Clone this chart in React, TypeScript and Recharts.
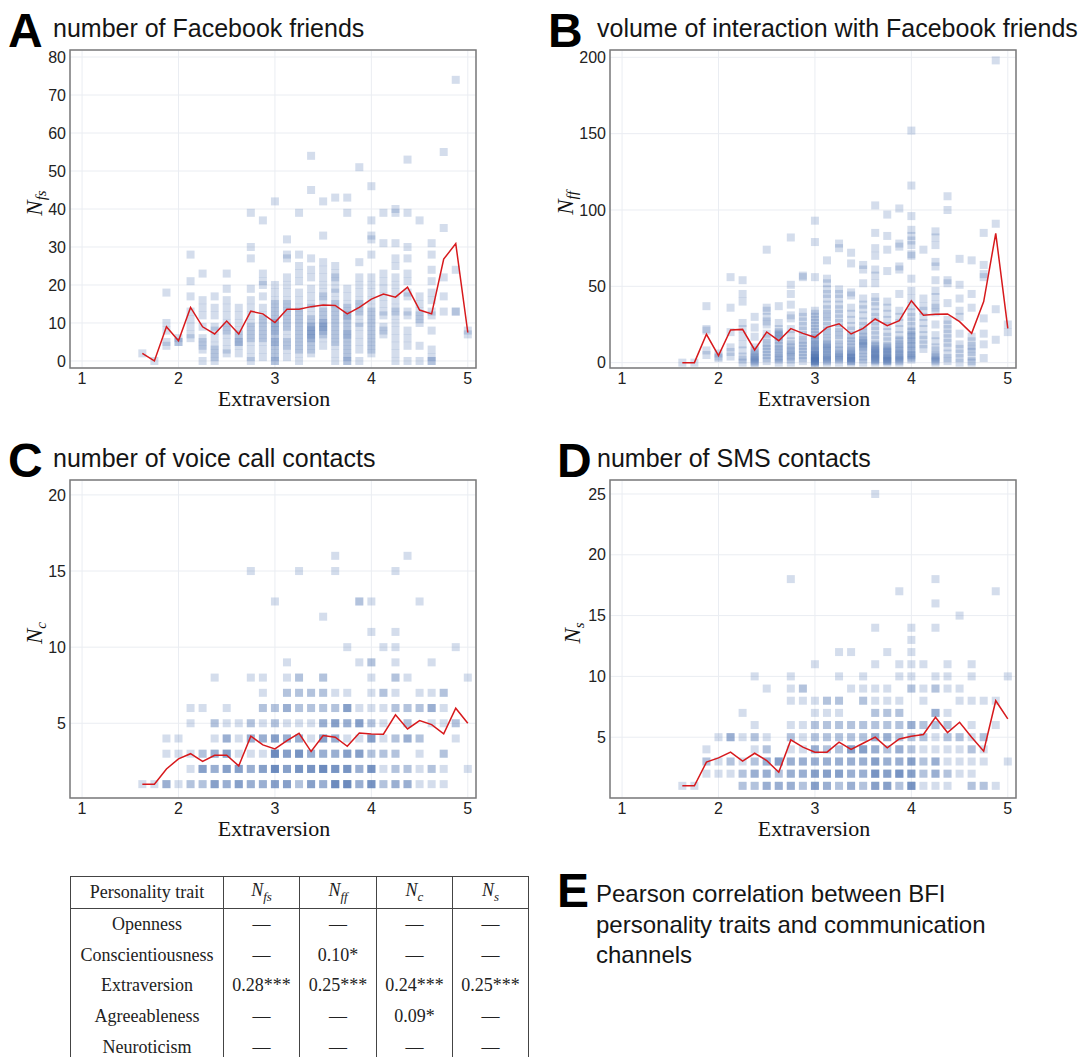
import { CartesianGrid, ReferenceArea, Scatter, ScatterChart, XAxis, YAxis } from "recharts";

// BFI extraversion scores come in steps of 1/8
const extraversionLevels = [
  1.625, 1.75, 1.875, 2, 2.125, 2.25, 2.375, 2.5, 2.625, 2.75, 2.875, 3, 3.125, 3.25,
  3.375, 3.5, 3.625, 3.75, 3.875, 4, 4.125, 4.25, 4.375, 4.5, 4.625, 4.75, 4.875, 5,
];
const xTicks = [1, 2, 3, 4, 5];

// A: number of Facebook friends, one list of users per extraversion level
const fsColumns = [
  [2], [0], [18, 10, 8, 5, 4], [6, 5, 5],
  [28, 21, 17, 13, 11, 9, 7, 6],
  [23, 16, 14, 12, 9, 6, 5, 4, 3, 0],
  [17, 14, 12, 9, 8, 6, 4, 3, 2, 1, 0],
  [23, 19, 16, 14, 12, 10, 9, 8, 7, 5, 3, 2],
  [14, 12, 10, 8, 7, 6, 5, 5, 4, 2],
  [39, 30, 27, 19, 16, 14, 12, 10, 9, 8, 7, 6, 5, 3, 1, 0],
  [37, 23, 21, 20, 17, 14, 12, 11, 10, 9, 8, 7, 6, 5, 3, 1],
  [42, 20, 18, 16, 15, 14, 13, 12, 11, 10, 10, 9, 8, 8, 7, 6, 5, 5, 4, 3, 2, 1, 0, 0],
  [32, 28, 27, 22, 20, 18, 16, 15, 14, 13, 12, 11, 10, 9, 8, 6, 5, 4, 3, 1],
  [39, 28, 25, 23, 21, 18, 16, 14, 13, 12, 11, 10, 9, 8, 7, 6, 5, 4, 3, 2, 0],
  [54, 45, 27, 24, 22, 19, 17, 15, 14, 12, 11, 10, 9, 9, 8, 8, 7, 7, 6, 6, 5, 4, 3, 2],
  [42, 33, 26, 24, 22, 20, 18, 17, 16, 14, 13, 12, 11, 10, 10, 9, 9, 8, 8, 7, 6, 4],
  [43, 25, 23, 22, 21, 19, 18, 16, 15, 14, 13, 12, 11, 10, 9, 8, 7, 6, 5, 4, 2, 0],
  [43, 39, 19, 17, 15, 14, 13, 12, 12, 11, 10, 9, 8, 7, 7, 6, 5, 4, 3, 2, 1, 0, 0],
  [51, 26, 22, 20, 18, 16, 15, 14, 13, 12, 10, 9, 7, 5, 3, 0],
  [46, 37, 33, 32, 28, 22, 20, 18, 16, 14, 13, 12, 11, 10, 9, 8, 7, 6, 5, 4, 3, 2],
  [39, 31, 23, 21, 19, 17, 15, 13, 12, 9, 8, 7],
  [40, 39, 31, 27, 25, 22, 20, 18, 16, 14, 13, 12, 10, 8, 6, 4, 2, 0],
  [53, 39, 30, 27, 23, 21, 18, 17, 13, 12, 8, 6, 4, 0],
  [37, 17, 15, 13, 12, 11, 10, 4, 0],
  [31, 28, 24, 21, 18, 16, 13, 12, 8, 3, 1, 0, 0],
  [55, 35, 22, 17, 13],
  [74, 24, 13, 13],
  [8, 7],
];
const fsMeans = [
  2.0, 0, 9.0, 5.3, 14.1, 9.0, 7.1, 10.5, 7.1, 13.1, 12.4, 10.1, 13.6, 13.6,
  14.3, 14.7, 14.6, 12.4, 14.1, 16.3, 17.6, 16.8, 19.4, 13.4, 12.4, 26.8, 30.9, 7.5,
];

// B: volume of interaction with Facebook friends
const ffColumns = [
  [0], [0], [37, 22, 21, 8, 5], [6, 4, 3],
  [56, 36, 20, 10, 7, 4],
  [54, 45, 40, 26, 22, 17, 12, 8, 4, 2, 0],
  [30, 23, 17, 10, 8, 6, 5, 4, 3, 2, 1, 0, 0],
  [74, 36, 34, 30, 27, 25, 19, 16, 13, 11, 9, 7, 5, 3, 1],
  [37, 26, 22, 20, 19, 18, 17, 15, 13, 11, 9, 8, 6, 4, 3, 2, 0],
  [82, 51, 45, 38, 31, 29, 22, 18, 14, 12, 10, 8, 7, 5, 4, 2, 0],
  [57, 56, 33, 30, 27, 24, 21, 18, 15, 13, 11, 9, 7, 5, 3, 1],
  [93, 79, 56, 34, 32, 30, 28, 26, 24, 22, 20, 18, 16, 15, 14, 12, 11, 10, 9, 8, 7, 6, 5, 5, 4, 4, 3, 3, 2, 2, 1, 1, 1, 0, 0, 0],
  [67, 55, 52, 48, 45, 42, 38, 35, 32, 30, 27, 24, 21, 19, 16, 14, 12, 11, 10, 9, 8, 6, 5, 4, 3, 2, 1, 0],
  [78, 75, 48, 45, 42, 38, 35, 32, 29, 26, 23, 20, 18, 15, 12, 10, 8, 6, 5, 4, 3, 2, 0],
  [72, 65, 46, 44, 36, 32, 28, 24, 21, 18, 16, 14, 12, 10, 8, 7, 6, 5, 4, 3, 3, 2, 1, 1, 0],
  [64, 61, 52, 42, 38, 35, 31, 27, 24, 21, 19, 17, 15, 14, 13, 12, 11, 10, 8, 6, 4, 2, 0],
  [103, 85, 75, 70, 61, 57, 52, 43, 40, 37, 33, 30, 27, 24, 21, 18, 15, 12, 11, 10, 9, 8, 7, 6, 6, 5, 4, 3, 2, 2, 1, 0],
  [97, 83, 74, 60, 40, 36, 32, 28, 24, 20, 17, 14, 11, 10, 9, 8, 7, 6, 5, 4, 3, 2, 2, 1, 1, 0],
  [101, 78, 76, 63, 61, 45, 34, 30, 26, 22, 18, 15, 14, 12, 10, 9, 8, 6, 5, 4, 3, 2, 1, 0],
  [152, 116, 96, 87, 83, 80, 77, 71, 70, 55, 47, 42, 37, 33, 30, 27, 24, 21, 20, 18, 17, 15, 14, 12, 11, 9, 8, 6, 5, 4, 3, 2],
  [74, 42, 37, 34, 30, 26, 22, 18, 15, 12, 9],
  [86, 82, 77, 66, 63, 54, 47, 43, 38, 36, 33, 25, 18, 14, 10, 8, 5, 4, 3, 2, 1, 0],
  [109, 100, 54, 52, 39, 28, 25, 22, 19, 16, 13, 10, 6, 3, 1],
  [68, 51, 42, 34, 30, 19, 12, 9, 6, 3, 0],
  [67, 45, 36, 17, 14, 11, 9, 7, 4, 1, 0],
  [85, 64, 58, 56, 29, 19, 12, 3],
  [198, 91, 35, 15],
  [25, 20],
];
const ffMeans = [
  0, 0, 18.6, 4.6, 21.4, 21.8, 8.3, 20.1, 14.4, 22.3, 19.2, 16.6, 23.1, 25.5,
  18.8, 22.5, 28.6, 24.2, 27.5, 40.6, 31.0, 31.7, 31.9, 26.9, 19.2, 40.0, 84.7, 22.5,
];

// C: number of voice call contacts
const cColumns = [
  [1], [1], [1, 1, 1, 3, 4], [1, 3, 4],
  [1, 1, 2, 3, 5, 6],
  [1, 1, 2, 2, 2, 2, 3, 3, 6],
  [1, 1, 1, 1, 2, 2, 2, 3, 3, 3, 4, 5, 5, 8],
  [1, 1, 1, 2, 2, 2, 2, 3, 3, 3, 3, 4, 4, 4, 5, 6],
  [1, 1, 1, 1, 2, 2, 2, 2, 3, 4, 5],
  [1, 1, 1, 2, 2, 2, 3, 4, 4, 4, 5, 5, 8, 15],
  [1, 1, 1, 2, 2, 2, 2, 3, 4, 4, 4, 5, 6, 6, 7, 8],
  [1, 1, 1, 1, 2, 2, 2, 2, 2, 2, 3, 3, 3, 3, 3, 3, 4, 4, 4, 4, 5, 5, 6, 6, 13],
  [1, 1, 1, 1, 2, 2, 2, 2, 3, 3, 3, 3, 4, 4, 4, 5, 6, 6, 6, 7, 7, 8, 9],
  [1, 1, 2, 2, 2, 2, 2, 3, 3, 3, 3, 3, 4, 4, 4, 5, 6, 6, 7, 7, 8, 8, 15],
  [1, 1, 1, 1, 2, 2, 2, 2, 2, 3, 3, 3, 4, 5, 6, 6, 7, 7],
  [1, 1, 1, 2, 2, 2, 2, 2, 2, 3, 3, 3, 4, 4, 4, 4, 5, 5, 5, 6, 6, 7, 7, 8, 8, 12],
  [1, 1, 1, 1, 1, 1, 2, 2, 2, 2, 2, 3, 3, 3, 4, 4, 4, 5, 5, 5, 5, 6, 6, 7, 15, 16],
  [1, 1, 1, 1, 1, 1, 2, 2, 2, 2, 2, 3, 3, 3, 3, 4, 5, 5, 5, 6, 6, 6, 6, 7, 10],
  [1, 1, 1, 2, 2, 2, 3, 3, 3, 3, 4, 5, 5, 5, 5, 6, 9, 13, 13],
  [1, 1, 1, 1, 1, 2, 2, 2, 2, 2, 3, 3, 4, 4, 4, 4, 5, 5, 6, 7, 8, 9, 9, 11, 13],
  [1, 1, 2, 3, 3, 4, 5, 6, 7, 7, 10],
  [1, 1, 1, 2, 2, 3, 3, 4, 4, 6, 6, 7, 8, 8, 9, 10, 11, 15],
  [1, 1, 1, 2, 2, 4, 4, 4, 5, 5, 6, 6, 8, 16],
  [1, 2, 3, 4, 4, 6, 6, 7, 13],
  [1, 2, 2, 5, 6, 6, 6, 7, 9],
  [1, 2, 3, 3, 5, 6, 7, 7],
  [4, 5, 5, 10],
  [2, 8],
];
const cMeans = [
  1.0, 1.0, 2.0, 2.66, 3.0, 2.5, 2.9, 2.9, 2.2, 4.15, 3.58, 3.31, 3.86, 4.34,
  3.14, 4.19, 4.08, 3.49, 4.36, 4.3, 4.28, 5.55, 4.63, 5.18, 4.91, 4.3, 5.99, 5.0,
];

// D: number of SMS contacts
const sColumns = [
  [1], [1], [2, 3, 3, 4], [2, 3, 5],
  [2, 3, 3, 5, 5, 5],
  [1, 1, 2, 2, 3, 5, 7],
  [1, 1, 2, 2, 2, 3, 3, 4, 5, 5, 6, 10],
  [1, 1, 1, 2, 2, 2, 3, 3, 3, 4, 4, 5, 9],
  [1, 1, 1, 2, 2, 3, 3, 3, 3],
  [1, 1, 1, 2, 2, 2, 3, 3, 3, 4, 5, 5, 6, 8, 9, 10, 18],
  [1, 1, 2, 2, 2, 3, 3, 3, 4, 5, 6, 8, 9, 9],
  [1, 1, 1, 1, 2, 2, 2, 2, 3, 3, 3, 4, 4, 4, 5, 5, 6, 6, 7, 8, 11],
  [1, 1, 1, 2, 2, 2, 2, 3, 3, 3, 4, 4, 5, 5, 6, 6, 7, 8, 8],
  [1, 1, 2, 2, 2, 2, 3, 3, 3, 4, 4, 5, 5, 6, 6, 7, 8, 8, 10, 12],
  [1, 1, 1, 2, 2, 2, 3, 3, 3, 4, 4, 4, 4, 5, 5, 6, 6, 9, 12],
  [1, 1, 2, 2, 2, 3, 3, 3, 4, 4, 4, 4, 5, 5, 6, 6, 8, 8, 9, 10],
  [1, 1, 1, 1, 2, 2, 2, 2, 2, 3, 3, 3, 3, 4, 4, 4, 5, 5, 5, 6, 6, 7, 7, 8, 9, 11, 14, 25],
  [1, 1, 1, 1, 2, 2, 2, 2, 3, 3, 3, 4, 4, 5, 5, 5, 6, 6, 7, 7, 8, 9, 12],
  [1, 1, 2, 2, 2, 2, 2, 3, 3, 3, 4, 4, 4, 5, 5, 6, 6, 7, 7, 8, 10, 11, 17],
  [1, 1, 1, 1, 1, 2, 2, 2, 2, 3, 3, 3, 3, 4, 4, 5, 5, 6, 6, 6, 9, 9, 10, 11, 12, 13, 14],
  [1, 2, 2, 3, 3, 4, 5, 5, 6, 6, 8, 9, 11],
  [1, 2, 2, 2, 3, 3, 3, 4, 5, 6, 6, 7, 7, 7, 9, 9, 10, 14, 16, 18],
  [1, 2, 2, 3, 4, 5, 5, 6, 6, 7, 9, 10, 11],
  [2, 3, 4, 5, 5, 8, 9, 15],
  [1, 1, 2, 3, 4, 4, 5, 6, 8, 10, 11],
  [1, 1, 3, 4, 5, 5, 8],
  [1, 6, 8, 17],
  [3, 10],
];
const sMeans = [
  1.0, 1.0, 2.95, 3.3, 3.77, 3.03, 3.68, 3.08, 2.12, 4.78, 4.18, 3.77, 3.77, 4.59,
  3.99, 4.5, 5.0, 4.12, 4.86, 5.08, 5.22, 6.64, 5.38, 6.23, 5.0, 3.85, 8.0, 6.5,
];

// E: correlation table
const traits = ["Openness", "Conscientiousness", "Extraversion", "Agreeableness", "Neuroticism"];
const channelSubs = ["fs", "ff", "c", "s"];
const correlations = [
  ["—", "—", "—", "—"],
  ["—", "0.10*", "—", "—"],
  ["0.28***", "0.25***", "0.24***", "0.25***"],
  ["—", "—", "0.09*", "—"],
  ["—", "—", "—", "—"],
];

const SANS = "'Liberation Sans', Arial, Helvetica, sans-serif";
const SERIF = "'Liberation Serif', 'DejaVu Serif', serif";
const X_DOMAIN: [number, number] = [0.875, 5.085];

const toPoints = (cols: number[][]) =>
  extraversionLevels.flatMap((x, i) => cols[i].map((y) => ({ x, y })));
const toLine = (means: number[]) => extraversionLevels.map((x, i) => ({ x, y: means[i] }));

const Square = (props: any) => {
  const { cx, cy } = props;
  if (cx == null || cy == null) return <g />;
  return <rect x={cx - 4} y={cy - 4} width={8} height={8} fill="#4c72b0" fillOpacity={0.24} />;
};
const NoDot = () => <g />;

type PanelProps = {
  left: number;
  top: number;
  letter: string;
  letterX: number;
  titleX: number;
  title: string;
  sub: string;
  labelX: number;
  columns: number[][];
  means: number[];
  yDomain: [number, number];
  yTicks: number[];
};

function Panel({ left, top, letter, letterX, titleX, title, sub, labelX, columns, means, yDomain, yTicks }: PanelProps) {
  const tick = { fontSize: 16, fill: "#222", fontFamily: SANS };
  return (
    <div style={{ position: "absolute", left, top, width: 540, height: 430 }}>
      <svg width={540} height={430} style={{ position: "absolute", left: 0, top: 0 }}>
        <text x={letterX} y={47} fontFamily={SANS} fontWeight={900} fontSize={48} fill="#000">
          {letter}
        </text>
        <text x={titleX} y={37} fontFamily={SANS} fontSize={25} fill="#151515">
          {title}
        </text>
        <text x={274} y={406} textAnchor="middle" fontFamily={SERIF} fontSize={22} fill="#111">
          Extraversion
        </text>
        <text transform={`translate(${labelX},203) rotate(-90)`} textAnchor="middle" fontFamily={SERIF} fill="#111">
          <tspan fontStyle="italic" fontSize={23}>N</tspan>
          <tspan fontStyle="italic" fontSize={15} dy={4}>{sub}</tspan>
        </text>
      </svg>
      <div style={{ position: "absolute", left: 0, top: 40 }}>
        <ScatterChart width={490} height={380} margin={{ top: 10, right: 14, left: 30, bottom: 22 }}>
          <CartesianGrid stroke="#eaedf2" />
          <XAxis
            type="number"
            dataKey="x"
            domain={X_DOMAIN}
            ticks={xTicks}
            allowDataOverflow
            axisLine={false}
            tickLine={false}
            tickSize={0}
            tickMargin={5}
            height={30}
            tick={tick}
          />
          <YAxis
            type="number"
            dataKey="y"
            domain={yDomain}
            ticks={yTicks}
            allowDataOverflow
            axisLine={false}
            tickLine={false}
            tickSize={0}
            tickMargin={4}
            width={40}
            tick={tick}
          />
          <Scatter data={toPoints(columns)} shape={Square} isAnimationActive={false} />
          <Scatter
            data={toLine(means)}
            shape={NoDot}
            line={{ stroke: "#d7191c", strokeWidth: 1.5 }}
            isAnimationActive={false}
          />
          <ReferenceArea
            x1={X_DOMAIN[0]}
            x2={X_DOMAIN[1]}
            y1={yDomain[0]}
            y2={yDomain[1]}
            ifOverflow="visible"
            fill="none"
            stroke="#7a7a7a"
            strokeWidth={1.5}
          />
        </ScatterChart>
      </div>
    </div>
  );
}

const cellStyle = {
  borderLeft: "1px solid #444",
  borderRight: "1px solid #444",
  textAlign: "center" as const,
  padding: 0,
  height: 30.7,
};

function CorrelationTable() {
  return (
    <table
      style={{
        position: "absolute",
        left: 70,
        top: 876,
        borderCollapse: "collapse",
        tableLayout: "fixed",
        width: 458,
        fontFamily: SERIF,
        fontSize: 18,
        color: "#222",
        borderTop: "1px solid #444",
      }}
    >
      <colgroup>
        <col style={{ width: 153 }} />
        <col style={{ width: 76 }} />
        <col style={{ width: 77 }} />
        <col style={{ width: 76 }} />
        <col style={{ width: 76 }} />
      </colgroup>
      <thead>
        <tr>
          <th style={{ ...cellStyle, fontWeight: 400, height: 31, borderBottom: "1px solid #444" }}>
            Personality trait
          </th>
          {channelSubs.map((s) => (
            <th key={s} style={{ ...cellStyle, fontWeight: 400, height: 31, borderBottom: "1px solid #444" }}>
              <i>N</i>
              <sub style={{ fontSize: 13 }}>
                <i>{s}</i>
              </sub>
            </th>
          ))}
        </tr>
      </thead>
      <tbody>
        {traits.map((t, r) => (
          <tr key={t}>
            <td style={cellStyle}>{t}</td>
            {correlations[r].map((v, c) => (
              <td key={c} style={cellStyle}>
                {v}
              </td>
            ))}
          </tr>
        ))}
      </tbody>
    </table>
  );
}

export default function App() {
  return (
    <div
      style={{
        position: "fixed",
        left: 0,
        top: 0,
        width: 1089,
        height: 1057,
        overflow: "hidden",
        background: "#fff",
      }}
    >
      <Panel
        left={0}
        top={0}
        letter="A"
        letterX={8}
        titleX={53}
        title="number of Facebook friends"
        sub="fs"
        labelX={42}
        columns={fsColumns}
        means={fsMeans}
        yDomain={[-1.85, 81.85]}
        yTicks={[0, 10, 20, 30, 40, 50, 60, 70, 80]}
      />
      <Panel
        left={540}
        top={0}
        letter="B"
        letterX={8}
        titleX={57}
        title="volume of interaction with Facebook friends"
        sub="ff"
        labelX={33}
        columns={ffColumns}
        means={ffMeans}
        yDomain={[-3.5, 204.8]}
        yTicks={[0, 50, 100, 150, 200]}
      />
      <Panel
        left={0}
        top={430}
        letter="C"
        letterX={8}
        titleX={53}
        title="number of voice call contacts"
        sub="c"
        labelX={42}
        columns={cColumns}
        means={cMeans}
        yDomain={[0.09, 20.98]}
        yTicks={[5, 10, 15, 20]}
      />
      <Panel
        left={540}
        top={430}
        letter="D"
        letterX={17}
        titleX={57}
        title="number of SMS contacts"
        sub="s"
        labelX={40}
        columns={sColumns}
        means={sMeans}
        yDomain={[0, 26.15]}
        yTicks={[5, 10, 15, 20, 25]}
      />
      <CorrelationTable />
      <svg width={1089} height={200} style={{ position: "absolute", left: 0, top: 860 }}>
        <text x={557} y={47} fontFamily={SANS} fontWeight={900} fontSize={48} fill="#000">
          E
        </text>
        <text fontFamily={SANS} fontSize={24} fill="#151515">
          <tspan x={596} y={42}>Pearson correlation between BFI</tspan>
          <tspan x={596} y={73}>personality traits and communication</tspan>
          <tspan x={596} y={103}>channels</tspan>
        </text>
      </svg>
    </div>
  );
}
